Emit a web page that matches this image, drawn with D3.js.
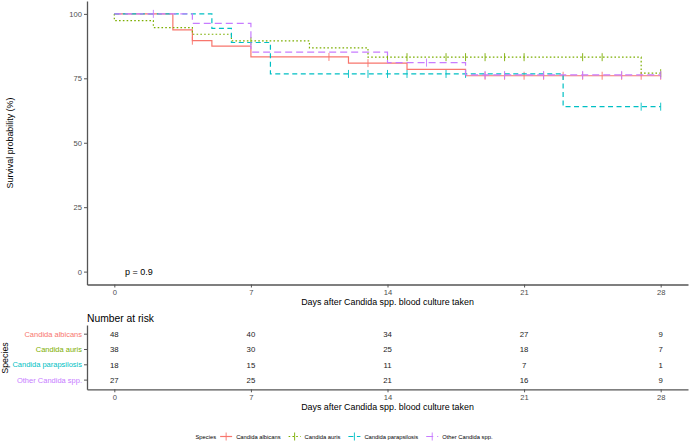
<!DOCTYPE html>
<html><head><meta charset="utf-8">
<script src="https://cdn.jsdelivr.net/npm/d3@7"></script>
<style>body{margin:0;background:#fff}svg{display:block;font-family:"Liberation Sans",Arial,sans-serif}</style>
</head><body><svg id="c" width="689" height="442"></svg>
<script>
// ---- data ----
const species = ["Candida albicans", "Candida auris", "Candida parapsilosis", "Other Candida spp."];
const colors = ["#F8766D", "#7CAE00", "#00BFC4", "#C77CFF"];
const dashes = [null, "1.6,2.2", "5,3.5", "7,4"];
// event times and survival (%) after each event
const albicansT = [3, 4, 5, 7, 12, 15, 18];
const albicansS = [93.8, 89.6, 87.5, 83.3, 80.9, 78.5, 76.0];
const aurisT = [0, 2, 4, 6, 10, 13, 27];
const aurisS = [97.4, 94.7, 92.1, 89.5, 86.8, 83.2, 77.0];
const paraT = [5, 6, 8, 23];
const paraS = [94.4, 88.9, 76.7, 64.0];
const otherT = [4, 7, 14, 18];
const otherS = [96.3, 85.2, 81.1, 76.3];
// censoring times
const albicansC = [4, 11, 13, 19, 20, 21, 22, 23, 24, 25, 26, 27, 28];
const aurisC = [7, 14, 15, 17, 18, 19, 20, 21, 24, 25, 28];
const paraC = [12, 13, 14, 15, 17, 18, 27, 28];
const otherC = [2, 16, 19, 20, 22, 24, 26, 28];
const riskTimes = [0, 7, 14, 21, 28];
const riskAlbicans = [48, 40, 34, 27, 9];
const riskAuris = [38, 30, 25, 18, 7];
const riskPara = [18, 15, 11, 7, 1];
const riskOther = [27, 25, 21, 16, 9];
const yTicks = [0, 25, 50, 75, 100];
const pText = "p = 0.9";

const eventsT = [albicansT, aurisT, paraT, otherT];
const eventsS = [albicansS, aurisS, paraS, otherS];
const censors = [albicansC, aurisC, paraC, otherC];
const risk = [riskAlbicans, riskAuris, riskPara, riskOther];

const svg = d3.select("#c");
svg.append("rect").attr("width", 689).attr("height", 442).attr("fill", "#fff");

const axisCol = "#555", tickTxt = "#4D4D4D";
const x = d3.scaleLinear().domain([-1.4, 29.4]).range([87, 688]);
const y = d3.scaleLinear().domain([-5, 105]).range([284.5, 1]);

function survAt(i, t) {
  let s = 100;
  eventsT[i].forEach((et, k) => { if (et <= t) s = eventsS[i][k]; });
  return s;
}

// ---- main plot ----
const gMain = svg.append("g");
const line = d3.line().x(d => x(d[0])).y(d => y(d[1])).curve(d3.curveStepAfter);
species.forEach((sp, i) => {
  const pts = [[0, 100]];
  eventsT[i].forEach((t, k) => pts.push([t, eventsS[i][k]]));
  pts.push([28, eventsS[i][eventsS[i].length - 1]]);
  gMain.append("path").attr("d", line(pts)).attr("fill", "none")
    .attr("stroke", colors[i]).attr("stroke-width", 1.2)
    .attr("stroke-dasharray", dashes[i]);
  censors[i].forEach(t => {
    const cx = x(t), cy = y(survAt(i, t));
    gMain.append("line").attr("x1", cx).attr("x2", cx).attr("y1", cy - 4).attr("y2", cy + 4)
      .attr("stroke", colors[i]).attr("stroke-width", 0.9);
  });
});

const yAxis = gMain.append("g").attr("transform", "translate(87,0)")
  .call(d3.axisLeft(y).tickValues(yTicks).tickSize(3).tickSizeOuter(0).tickPadding(2));
const xAxis = gMain.append("g").attr("transform", "translate(0,284.5)")
  .call(d3.axisBottom(x).tickValues(riskTimes).tickSize(3).tickSizeOuter(0).tickPadding(2));
[yAxis, xAxis].forEach(a => {
  a.select(".domain").attr("stroke", axisCol).attr("stroke-width", 1.3);
  a.selectAll(".tick line").attr("stroke", axisCol);
  a.selectAll(".tick text").attr("fill", tickTxt).style("font-size", "7.6px").style("font-family", "Liberation Sans, Arial, sans-serif");
});

svg.append("text").attr("x", 125).attr("y", 274.5).text(pText)
  .style("font-size", "9px").attr("fill", "#000");
svg.append("text").attr("x", 387.5).attr("y", 305).attr("text-anchor", "middle")
  .text("Days after Candida spp. blood culture taken").style("font-size", "8.9px");
svg.append("text").attr("transform", "translate(13,143) rotate(-90)").attr("text-anchor", "middle")
  .text("Survival probability (%)").style("font-size", "8.9px");

// ---- risk table ----
const yr = d3.scaleBand().domain(species).range([325, 389.3]).paddingOuter(0.1).paddingInner(0);
const gR = svg.append("g");
species.forEach((sp, i) => {
  riskTimes.forEach((t, k) => {
    gR.append("text").attr("x", x(t)).attr("y", yr(sp) + yr.bandwidth() / 2 + 2.8)
      .attr("text-anchor", "middle").text(risk[i][k]).style("font-size", "7.8px").attr("fill", "#222");
  });
});
const ryAxis = gR.append("g").attr("transform", "translate(87,0)")
  .call(d3.axisLeft(yr).tickSize(3).tickSizeOuter(0).tickPadding(2));
ryAxis.select(".domain").attr("stroke", axisCol).attr("stroke-width", 1.3);
ryAxis.selectAll(".tick line").attr("stroke", axisCol);
ryAxis.selectAll(".tick text").attr("fill", (d, i) => colors[i]).style("font-size", "7.5px").style("font-family", "Liberation Sans, Arial, sans-serif");
const rxAxis = gR.append("g").attr("transform", "translate(0,389.3)")
  .call(d3.axisBottom(x).tickValues(riskTimes).tickSize(3).tickSizeOuter(0).tickPadding(2));
rxAxis.select(".domain").attr("stroke", axisCol).attr("stroke-width", 1.3);
rxAxis.selectAll(".tick line").attr("stroke", axisCol);
rxAxis.selectAll(".tick text").attr("fill", tickTxt).style("font-size", "7.6px").style("font-family", "Liberation Sans, Arial, sans-serif");

svg.append("text").attr("x", 87).attr("y", 322).text("Number at risk").style("font-size", "10.3px");
svg.append("text").attr("x", 387.5).attr("y", 410).attr("text-anchor", "middle")
  .text("Days after Candida spp. blood culture taken").style("font-size", "8.9px");
svg.append("text").attr("transform", "translate(8,358) rotate(-90)").attr("text-anchor", "middle")
  .text("Species").style("font-size", "8.9px");

// ---- legend ----
const gL = svg.append("g");
const ly = 436.5;
let cx = 0;
const title = gL.append("text").attr("x", cx).attr("y", ly + 2).text("Species").style("font-size", "5.8px");
cx += title.node().getComputedTextLength() + 4;
species.forEach((sp, i) => {
  gL.append("line").attr("x1", cx).attr("x2", cx + 12).attr("y1", ly).attr("y2", ly)
    .attr("stroke", colors[i]).attr("stroke-width", 1.2).attr("stroke-dasharray", dashes[i]);
  gL.append("line").attr("x1", cx + 6).attr("x2", cx + 6).attr("y1", ly - 4).attr("y2", ly + 4)
    .attr("stroke", colors[i]).attr("stroke-width", 0.9);
  cx += 16;
  const t = gL.append("text").attr("x", cx).attr("y", ly + 2).text(sp).style("font-size", "5.8px");
  cx += t.node().getComputedTextLength() + 8;
});
const total = cx - 8;
gL.attr("transform", `translate(${(195 + 493) / 2 - total / 2},0)`);
</script></body></html>
